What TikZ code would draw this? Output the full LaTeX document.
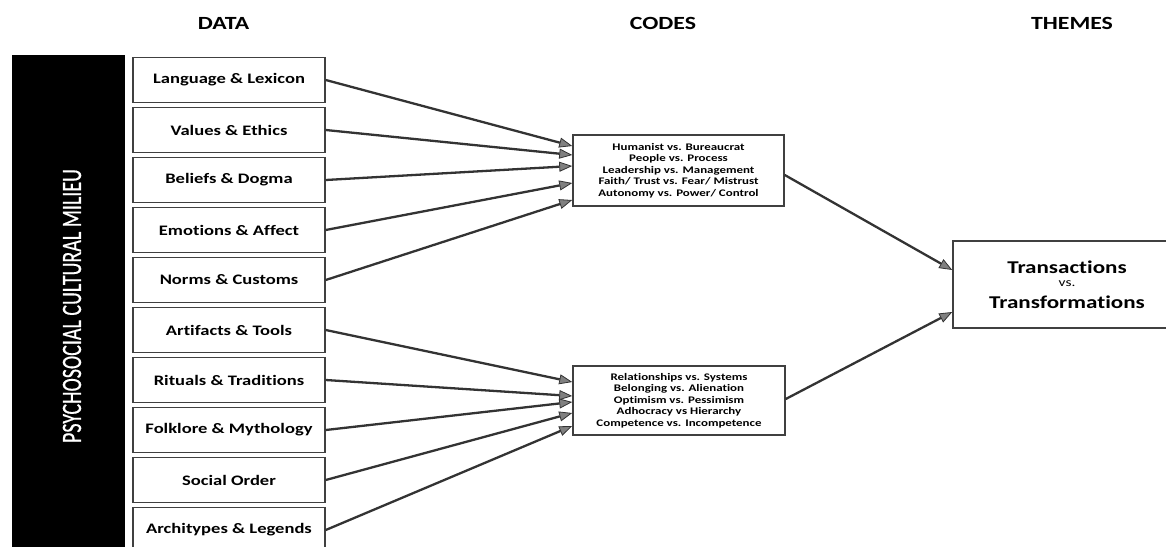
\documentclass[tikz,border=0pt]{standalone}
\usepackage{fontspec}
\setmainfont{Carlito}[FakeStretch=1.28,Ligatures={NoCommon}]
\newfontfamily\barfont{Carlito}[FakeBold=0.6]
\usetikzlibrary{arrows.meta,calc}
\begin{document}
\begin{tikzpicture}[x=1pt,y=-1pt,
  databox/.style={draw=black!75,line width=1.5pt,fill=white,minimum width=192pt,minimum height=45pt,inner sep=0pt,
     font=\bfseries\fontsize{14.5}{16}\selectfont},
  codebox/.style={draw=black!75,line width=1.5pt,fill=white,inner sep=0pt,align=center,
     font=\bfseries\fontsize{10.1}{11.5}\selectfont},
  head/.style={font=\bfseries\fontsize{18.6}{20}\selectfont},
  conn/.style={draw=black!80,line width=2.3pt,-{Triangle[length=13pt,width=10pt,fill=black!50,line width=0.8pt]}},
]
\useasboundingbox (0,0) rectangle (1166,546);
\begin{scope}
\clip (0,0) rectangle (1166,546);
% headers
\node[head] (hdata) at (223.5,23) {DATA};
\node[head] (hcodes) at (663,23) {CODES};
\node[head] (hthemes) at (1072,23) {THEMES};
% black bar
\node[fill=black,minimum width=113pt,minimum height=505pt,inner sep=0pt,anchor=north west] (bar) at (12,55) {};
\node[rotate=90,text=white,font=\barfont\fontsize{20}{20}\selectfont] (bartext) at (72,306) {\scalebox{1}[1.4]{PSYCHOSOCIAL CULTURAL MILIEU}};
% data boxes
\node[databox] (d1) at (229,80) {Language \& Lexicon};
\node[databox] (d2) at (229,130) {Values \& Ethics};
\node[databox] (d3) at (229,180) {Beliefs \& Dogma};
\node[databox] (d4) at (229,230) {Emotions \& Affect};
\node[databox] (d5) at (229,280) {Norms \& Customs};
\node[databox] (d6) at (229,330) {Artifacts \& Tools};
\node[databox] (d7) at (229,380) {Rituals \& Traditions};
\node[databox] (d8) at (229,430) {Folklore \& Mythology};
\node[databox] (d9) at (229,480) {Social Order};
\node[databox] (d10) at (229,530) {Architypes \& Legends};
% code boxes
\node[codebox,minimum width=211pt,minimum height=71pt] (c1) at (678.5,170.5)
  {Humanist vs. Bureaucrat\\People vs. Process\\Leadership vs. Management\\Faith/ Trust vs. Fear/ Mistrust\\Autonomy vs. Power/ Control};
\node[codebox,minimum width=212pt,minimum height=69pt] (c2) at (679,400.5)
  {Relationships vs. Systems\\Belonging vs. Alienation\\Optimism vs. Pessimism\\Adhocracy vs Hierarchy\\Competence vs. Incompetence};
% themes box
\node[draw=black!75,line width=1.5pt,fill=white,minimum width=228pt,minimum height=87pt,inner sep=0pt,align=center,
      font=\bfseries\fontsize{18}{18}\selectfont] (t) at (1067,284.5)
  {Transactions\\[-5pt]{\mdseries\fontsize{12}{9}\selectfont vs.}\\[4pt]Transformations};
% connectors
\draw[conn] (d1.east) -- ([yshift=24.5pt]c1.west);
\draw[conn] (d2.east) -- ([yshift=15.5pt]c1.west);
\draw[conn] (d3.east) -- ([yshift=4.5pt]c1.west);
\draw[conn] (d4.east) -- ([yshift=-12.5pt]c1.west);
\draw[conn] (d5.east) -- ([yshift=-29.5pt]c1.west);
\draw[conn] (d6.east) -- ([yshift=18.5pt]c2.west);
\draw[conn] (d7.east) -- ([yshift=4.5pt]c2.west);
\draw[conn] (d8.east) -- ([yshift=-1.5pt]c2.west);
\draw[conn] (d9.east) -- ([yshift=-12.5pt]c2.west);
\draw[conn] (d10.east) -- ([yshift=-25.5pt]c2.west);
\draw[conn] ([yshift=-4.5pt]c1.east) -- ([yshift=14.5pt]t.west);
\draw[conn] ([yshift=1.5pt]c2.east) -- ([yshift=-27.5pt]t.west);
\end{scope}
\end{tikzpicture}
\end{document}
